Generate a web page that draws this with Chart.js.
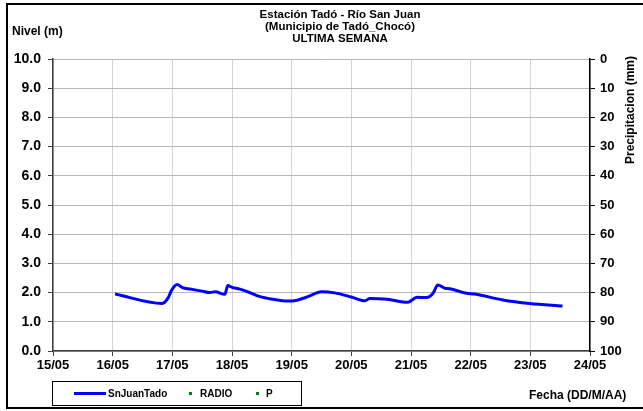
<!DOCTYPE html>
<html>
<head>
<meta charset="utf-8">
<script src="https://cdn.jsdelivr.net/npm/chart.js@4"></script>
<style>
  body { margin: 0; background: #fff; }
  canvas { display: block; }
</style>
</head>
<body>
<canvas id="nivelChart" width="643" height="411"></canvas>
<script>
// x axis: days of May, one tick per day
const dayTicks = ['15/05', '16/05', '17/05', '18/05', '19/05', '20/05', '21/05', '22/05', '23/05', '24/05'];
const firstDay = 15;
const lastDay = 24;

// river level readings (day of month as decimal, metres)
const readingTimes = [16.04, 16.83, 16.93, 16.99, 17.08, 17.17, 17.3, 17.5, 17.63, 17.72, 17.88, 17.93, 18.0, 18.13, 18.3,
  18.47, 18.69, 18.92, 19.09, 19.27, 19.5, 19.72, 20.0, 20.23, 20.31, 20.6, 20.95, 21.1, 21.26, 21.37, 21.45,
  21.57, 21.65, 21.93, 22.07, 22.54, 22.99, 23.54];
const levelValues = [1.95, 1.63, 1.82, 2.09, 2.28, 2.17, 2.12, 2.05, 2.0, 2.03, 1.94, 2.24, 2.18, 2.12, 2.0,
  1.86, 1.77, 1.71, 1.74, 1.86, 2.03, 1.99, 1.85, 1.72, 1.8, 1.77, 1.67, 1.84, 1.83, 1.98, 2.26,
  2.15, 2.13, 1.98, 1.95, 1.75, 1.63, 1.54];

// no radio or rain data this week
const radioValues = [];
const rainValues = [];

const titleLines = ['Estación Tadó - Río San Juan', '(Municipio de Tadó_Chocó)', 'ULTIMA SEMANA'];
const FONT = '"Liberation Sans", Arial, sans-serif';

const levelPoints = readingTimes.map((t, i) => ({ x: t, y: levelValues[i] }));

const extras = {
  id: 'extras',
  afterDraw(chart) {
    const ctx = chart.ctx;
    ctx.save();

    // outer frame
    ctx.strokeStyle = '#000';
    ctx.lineWidth = 2;
    ctx.strokeRect(7, 4, 660, 404);

    ctx.fillStyle = '#000';
    ctx.textAlign = 'center';
    ctx.textBaseline = 'middle';
    ctx.font = 'bold 11.5px ' + FONT;
    titleLines.forEach((t, i) => ctx.fillText(t, 340, 15 + i * 12));

    ctx.textAlign = 'left';
    ctx.font = 'bold 12px ' + FONT;
    ctx.fillText('Nivel (m)', 12, 32);

    ctx.fillText('Fecha (DD/M/AA)', 529, 396);

    // right axis title, rotated
    ctx.save();
    ctx.translate(631, 110);
    ctx.rotate(-Math.PI / 2);
    ctx.textAlign = 'center';
    ctx.fillText('Precipitacion (mm)', 0, 0);
    ctx.restore();

    // legend
    ctx.strokeStyle = '#000';
    ctx.lineWidth = 1;
    ctx.strokeRect(52.5, 381.5, 249, 24);
    const ds = chart.data.datasets;
    ctx.strokeStyle = ds[0].borderColor;
    ctx.lineWidth = 3;
    ctx.beginPath();
    ctx.moveTo(74, 393.5);
    ctx.lineTo(106, 393.5);
    ctx.stroke();
    ctx.fillStyle = '#000';
    ctx.font = 'bold 10px ' + FONT;
    ctx.fillText(ds[0].label, 108, 394);
    ctx.fillStyle = ds[1].pointBackgroundColor;
    ctx.fillRect(189, 392, 3, 3);
    ctx.fillStyle = '#000';
    ctx.fillText(ds[1].label, 200, 394);
    ctx.fillStyle = ds[2].pointBackgroundColor;
    ctx.fillRect(256, 392, 3, 3);
    ctx.fillStyle = '#000';
    ctx.fillText(ds[2].label, 266, 394);

    ctx.restore();
  }
};

new Chart(document.getElementById('nivelChart'), {
  type: 'line',
  data: {
    datasets: [
      {
        label: 'SnJuanTado',
        data: levelPoints,
        borderColor: '#0000ff',
        borderWidth: 3,
        pointRadius: 0,
        fill: false,
        cubicInterpolationMode: 'monotone',
        yAxisID: 'y'
      },
      {
        label: 'RADIO',
        data: radioValues,
        pointBackgroundColor: '#008000',
        showLine: false,
        yAxisID: 'y'
      },
      {
        label: 'P',
        data: rainValues,
        pointBackgroundColor: '#008000',
        showLine: false,
        yAxisID: 'y2'
      }
    ]
  },
  options: {
    responsive: false,
    animation: false,
    layout: { padding: { top: 59, left: 0, right: 0, bottom: 0 } },
    plugins: {
      legend: { display: false },
      tooltip: { enabled: false }
    },
    scales: {
      x: {
        type: 'linear',
        min: firstDay,
        max: lastDay,
        afterFit: (s) => { s.height = 60; },
        afterBuildTicks: (s) => {
          s.ticks = dayTicks.map((_, i) => ({ value: firstDay + i }));
        },
        ticks: {
          color: '#000',
          font: { family: FONT, size: 13, weight: 'bold' },
          padding: 2,
          maxRotation: 0,
          callback: (v) => dayTicks[v - firstDay]
        },
        grid: { color: '#d4d4d4', tickColor: '#404040', tickLength: 5 },
        border: { color: '#404040', width: 1.5 }
      },
      y: {
        position: 'left',
        min: 0,
        max: 10,
        afterFit: (s) => { s.width = 53; },
        ticks: {
          stepSize: 1,
          color: '#000',
          font: { family: FONT, size: 14, weight: 'bold' },
          padding: 7,
          callback: (v) => v.toFixed(1)
        },
        grid: { color: '#b8b8b8', tickColor: '#404040', tickLength: 5 },
        border: { color: '#404040', width: 1.5 }
      },
      y2: {
        position: 'right',
        min: 0,
        max: 100,
        reverse: true,
        afterFit: (s) => { s.width = 53; },
        ticks: {
          stepSize: 10,
          color: '#000',
          font: { family: FONT, size: 13, weight: 'bold' },
          padding: 5
        },
        grid: { drawOnChartArea: false, tickColor: '#000', tickLength: 5 },
        border: { color: '#000', width: 1.5 }
      }
    }
  },
  plugins: [extras]
});
</script>
</body>
</html>
